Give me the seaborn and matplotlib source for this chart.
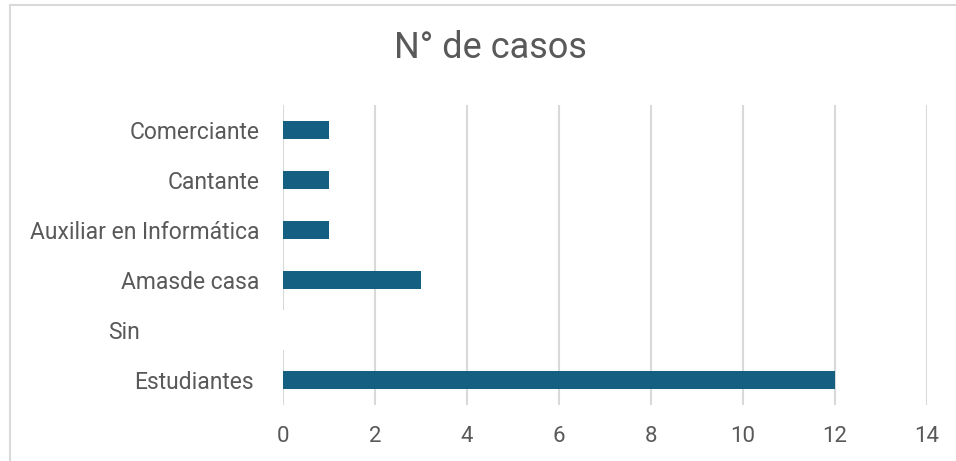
import matplotlib
matplotlib.use("Agg")
import matplotlib.pyplot as plt
import matplotlib.transforms as mtransforms
from matplotlib.patches import Rectangle
import seaborn as sns
import pandas as pd

categories = ["Comerciante", "Cantante", "Auxiliar en Informática", "Amasde casa", "Sin", "Estudiantes"]
values = [1, 1, 1, 3, 0, 12]
x_ticks = [0, 2, 4, 6, 8, 10, 12, 14]
title = "N° de casos"

TEXT = "#595959"
GRID = "#d9d9d9"
BAR = "#156082"

sns.set_theme(style="white")
plt.rcParams["font.family"] = ["Roboto", "DejaVu Sans"]

df = pd.DataFrame({"cat": categories, "val": values})

fig = plt.figure(figsize=(9.56, 4.61), dpi=100)
ax = fig.add_axes([283/956, 1-405/461, (927-283)/956, 300/461])

sns.barplot(data=df, x="val", y="cat", orient="h", color=BAR, width=0.35,
            linewidth=0, saturation=1, ax=ax, order=categories)

ax.set_xlim(0, 14)
ax.set_xticks(x_ticks)
ax.set_xlabel("")
ax.set_ylabel("")
for s in ax.spines.values():
    s.set_visible(False)

# vertical gridlines (the one at zero is interrupted at the "Sin" row)
for t in x_ticks[1:]:
    ax.axvline(t, color=GRID, lw=1.5, zorder=0)
sin_idx = categories.index("Sin")
ylo, yhi = -0.5, len(categories) - 0.5
ax.vlines(0, sin_idx + 0.4, yhi, color=GRID, lw=1.5, zorder=0)
ax.vlines(0, ylo, sin_idx - 0.4, color=GRID, lw=1.5, zorder=0)
ax.set_ylim(yhi, ylo)

ax.tick_params(axis="x", length=0, pad=15, labelsize=16, labelcolor=TEXT)
ax.tick_params(axis="y", length=0, pad=17, labelsize=16.5, labelcolor=TEXT)

for lab in ax.get_yticklabels():
    if lab.get_text() == "Sin":
        lab.set_transform(lab.get_transform() + mtransforms.ScaledTranslation(-1.20, 0, fig.dpi_scale_trans))
    elif lab.get_text() == "Estudiantes":
        lab.set_transform(lab.get_transform() + mtransforms.ScaledTranslation(-0.06, 0, fig.dpi_scale_trans))

fig.text(490/956, 1-48/461, title, ha="center", va="center", fontsize=26, color=TEXT)

fig.patches.append(Rectangle((10/956, -0.2), 1.2, 1.2 - 5/461, transform=fig.transFigure,
                             fill=False, edgecolor=GRID, lw=1.5))

fig.savefig("out.png", dpi=100)
